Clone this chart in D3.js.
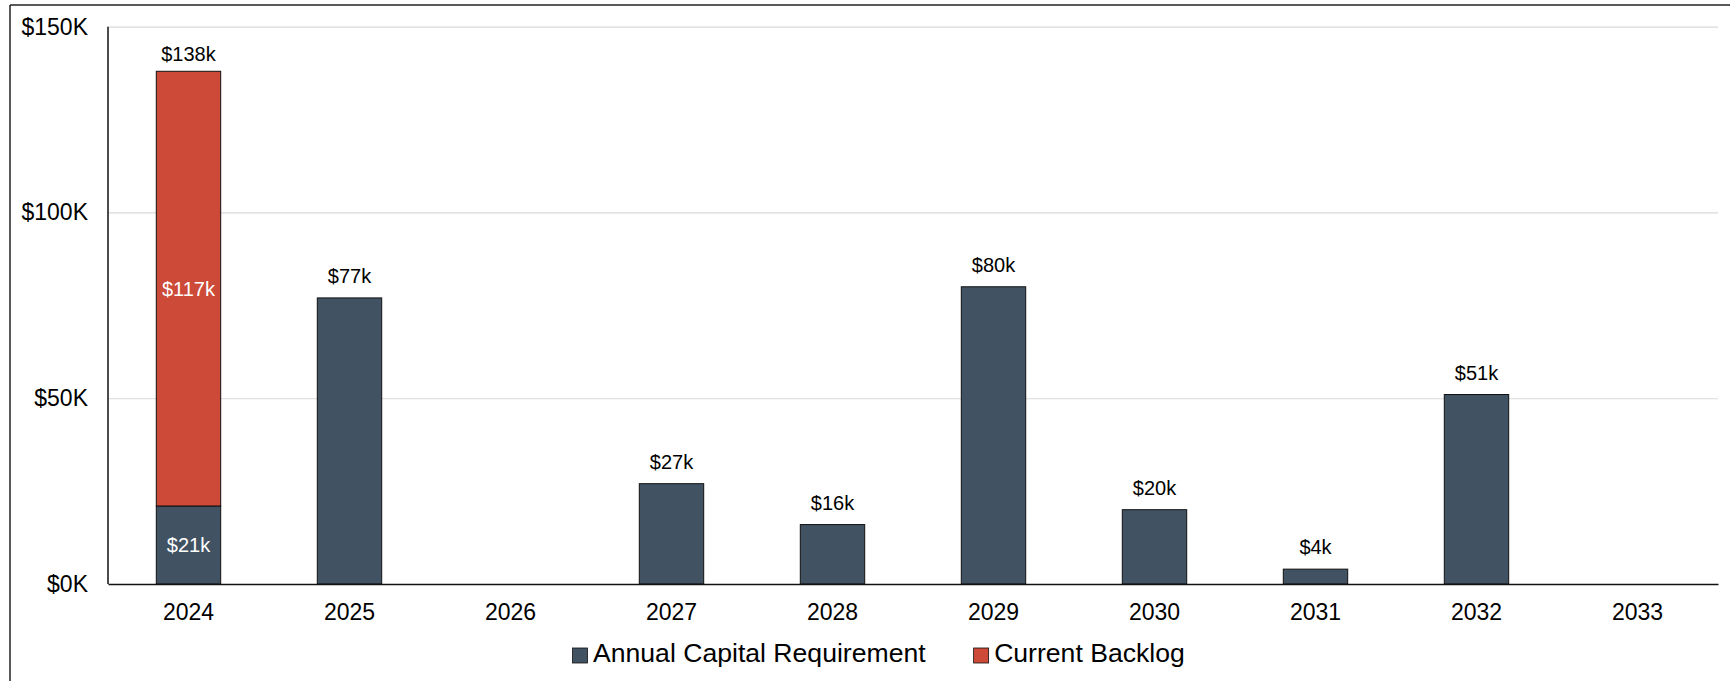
<!DOCTYPE html>
<html>
<head>
<meta charset="utf-8">
<script src="https://cdn.jsdelivr.net/npm/d3@7"></script>
<style>
  html, body { margin: 0; padding: 0; background: #fff; }
  svg { display: block; font-family: "Liberation Sans", Arial, sans-serif; }
</style>
</head>
<body>
<svg id="chart" width="1730" height="681"></svg>
<script>
// Capital plan by year, in thousands of dollars
const years = ['2024', '2025', '2026', '2027', '2028', '2029', '2030', '2031', '2032', '2033'];
const annualCapital = [21, 77, 0, 27, 16, 80, 20, 4, 51, 0];
const currentBacklog = [117, 0, 0, 0, 0, 0, 0, 0, 0, 0];
const seriesNames = ['Annual Capital Requirement', 'Current Backlog'];
const seriesColors = ['#415262', '#cc4a37'];
const yTicks = [0, 50, 100, 150];
const yMax = 150;

const svg = d3.select('#chart');
const W = 1730, H = 681;
const plot = { left: 108, right: 1718, top: 26.7, bottom: 584 };

// outer frame (top and left edges visible)
svg.append('line').attr('x1', 10).attr('x2', W).attr('y1', 5).attr('y2', 5)
  .attr('stroke', '#222').attr('stroke-width', 1.5);
svg.append('line').attr('x1', 10).attr('x2', 10).attr('y1', 5).attr('y2', H)
  .attr('stroke', '#222').attr('stroke-width', 1.5);

const x = d3.scaleBand().domain(years).range([plot.left, plot.right])
  .paddingInner(0.6).paddingOuter(0.3);
const y = d3.scaleLinear().domain([0, yMax]).range([plot.bottom, plot.top]);

const rows = years.map((yr, i) => ({ year: yr, annual: annualCapital[i], backlog: currentBacklog[i] }));
const stack = d3.stack().keys(['annual', 'backlog']);
const stacked = stack(rows);

// gridlines
svg.append('g')
  .attr('transform', `translate(${plot.left},0)`)
  .call(d3.axisLeft(y).tickValues(yTicks.filter(d => d > 0)).tickSize(-(plot.right - plot.left)).tickFormat(''))
  .call(g => g.select('.domain').remove())
  .call(g => g.selectAll('line').attr('stroke', '#d9d9d9').attr('stroke-width', 1.2));

// y axis labels
svg.append('g')
  .attr('transform', `translate(${plot.left},0)`)
  .call(d3.axisLeft(y).tickValues(yTicks).tickSize(0).tickPadding(20).tickFormat(d => `$${d}K`))
  .call(g => g.select('.domain').remove())
  .call(g => g.selectAll('text').attr('font-size', 23).attr('fill', '#000')
    .attr('font-family', '"Liberation Sans", Arial, sans-serif'));

// bars
svg.append('g').selectAll('g')
  .data(stacked)
  .join('g')
  .attr('fill', (d, i) => seriesColors[i])
  .selectAll('rect')
  .data(d => d.filter(s => s[1] - s[0] > 0))
  .join('rect')
  .attr('x', d => x(d.data.year))
  .attr('width', x.bandwidth())
  .attr('y', d => y(d[1]))
  .attr('height', d => y(d[0]) - y(d[1]))
  .attr('stroke', '#111')
  .attr('stroke-width', 1);

// left axis line and baseline
svg.append('line').attr('x1', plot.left).attr('x2', plot.left)
  .attr('y1', plot.top).attr('y2', plot.bottom).attr('stroke', '#111').attr('stroke-width', 1.5);

svg.append('g')
  .attr('transform', `translate(0,${plot.bottom})`)
  .call(d3.axisBottom(x).tickSize(0).tickPadding(20))
  .call(g => g.select('.domain').attr('stroke', '#111').attr('stroke-width', 1.5))
  .call(g => g.selectAll('text').attr('font-size', 23).attr('fill', '#000')
    .attr('font-family', '"Liberation Sans", Arial, sans-serif'));

// value labels
const labels = svg.append('g').attr('font-size', 20).attr('text-anchor', 'middle');
rows.forEach(r => {
  const total = r.annual + r.backlog;
  if (total <= 0) return;
  const cx = x(r.year) + x.bandwidth() / 2;
  const isStacked = r.annual > 0 && r.backlog > 0;
  labels.append('text')
    .attr('x', cx)
    .attr('y', y(total) - (isStacked ? 10 : 15))
    .attr('fill', '#000')
    .text(`$${total}k`);
  if (isStacked) {
    labels.append('text')
      .attr('x', cx).attr('y', (y(0) + y(r.annual)) / 2).attr('dy', '0.35em')
      .attr('fill', '#fff').text(`$${r.annual}k`);
    labels.append('text')
      .attr('x', cx).attr('y', (y(r.annual) + y(total)) / 2).attr('dy', '0.35em')
      .attr('fill', '#fff').text(`$${r.backlog}k`);
  }
});

// legend
const legend = svg.append('g').attr('transform', 'translate(572.5,0)');
let lx = 0;
seriesNames.forEach((name, i) => {
  const item = legend.append('g').attr('transform', `translate(${lx},0)`);
  item.append('rect').attr('x', 0).attr('y', 648).attr('width', 15).attr('height', 15)
    .attr('fill', seriesColors[i]).attr('stroke', '#111').attr('stroke-width', 0.8);
  const t = item.append('text').attr('x', 20.5).attr('y', 662).attr('font-size', 26.6)
    .attr('fill', '#000').text(name);
  lx += 20.5 + t.node().getComputedTextLength() + 48;
});
</script>
</body>
</html>
